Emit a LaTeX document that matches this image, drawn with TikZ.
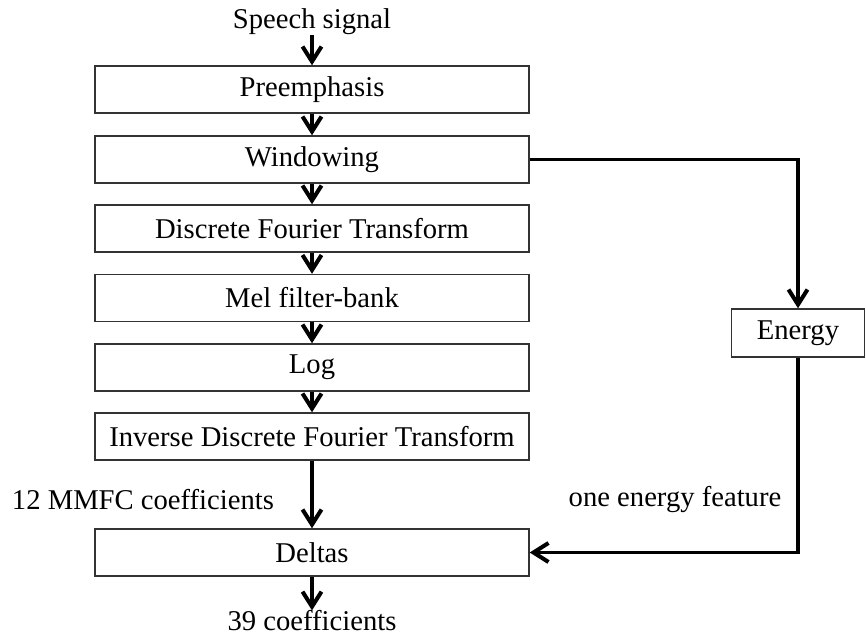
\documentclass[tikz,border=0pt]{standalone}
\usepackage{fontspec}
\setmainfont{Liberation Serif}
\usepackage{tikz}
\usetikzlibrary{arrows.meta,positioning,calc}
\tikzset{
  box/.style={draw=black!80, line width=0.8pt, align=center, inner sep=0pt, minimum width=8.68cm, minimum height=0.94cm, font=\fontsize{16.3}{19}\selectfont},
  ebox/.style={draw=black!80, line width=0.8pt, align=center, inner sep=0pt, minimum width=2.66cm, minimum height=0.96cm, font=\fontsize{16.3}{19}\selectfont},
  label/.style={inner sep=0pt, font=\fontsize{16.3}{19}\selectfont},
  arrow/.style={-{Straight Barb[length=3mm,width=3.8mm,line width=2.3pt]}, line width=1.9pt}
}
\begin{document}
\begin{tikzpicture}
\useasboundingbox (0,0) rectangle (17.32,-12.74);
\node[label] (sig) at (6.24,-0.44) {Speech signal};
\node[box] (pre) at (6.24,-1.79) {Preemphasis};
\node[box] (win) at (6.24,-3.19) {Windowing};
\node[box] (dft) at (6.24,-4.57) {Discrete Fourier Transform};
\node[box] (mel) at (6.24,-5.96) {Mel filter-bank};
\node[box] (log) at (6.24,-7.35) {Log};
\node[box] (idft) at (6.24,-8.73) {Inverse Discrete Fourier Transform};
\node[box] (del) at (6.24,-11.05) {Deltas};
\node[label] (out) at (6.24,-12.42) {39 coefficients};
\node[ebox] (en) at (15.96,-6.66) {Energy};
\node[label] (mfcc) at (2.86,-10.0) {12 MMFC coefficients};
\node[label] (feat) at (13.5,-10.0) {one energy feature};
\draw[arrow] (sig) -- (pre);
\draw[arrow] (pre) -- (win);
\draw[arrow] (win) -- (dft);
\draw[arrow] (dft) -- (mel);
\draw[arrow] (mel) -- (log);
\draw[arrow] (log) -- (idft);
\draw[arrow] (idft) -- (del);
\draw[arrow] (del) -- (out);
\draw[arrow] (win.east) -| (en.north);
\draw[arrow] (en.south) |- (del.east);
\end{tikzpicture}
\end{document}
